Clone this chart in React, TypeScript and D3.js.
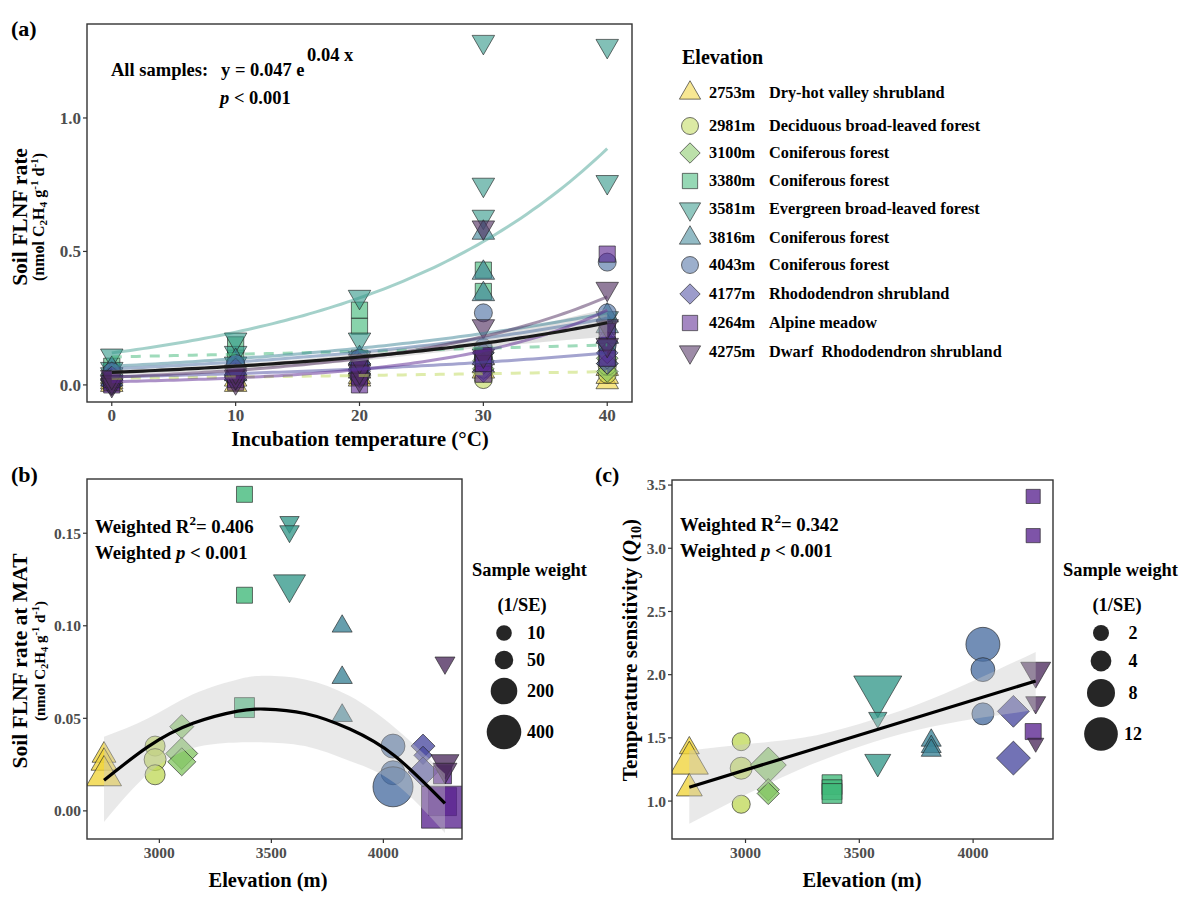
import React from 'react';
import * as d3 from 'd3';

const FONT = '"Liberation Serif", "Times New Roman", serif';

// sites
const sites = [2753, 2981, 3100, 3380, 3581, 3816, 4043, 4177, 4264, 4275];
const habitats = [
  'Dry-hot valley shrubland',
  'Deciduous broad-leaved forest',
  'Coniferous forest',
  'Coniferous forest',
  'Evergreen broad-leaved forest',
  'Coniferous forest',
  'Coniferous forest',
  'Rhododendron shrubland',
  'Alpine meadow',
  'Dwarf  Rhododendron shrubland',
];
const shapes = ['tri', 'circ', 'diam', 'sq', 'tridown', 'tri', 'circ', 'diam', 'sq', 'tridown'];
const colors = ['#f0d43a', '#c0d95a', '#85c765', '#3fb878', '#35998a', '#3b8396', '#4a6ea2', '#4a4aa0', '#5a2490', '#4d2b5e'];

// (a) rate by incubation temperature, three replicates per site
const temps = [0, 10, 20, 30, 40];
const rate2753 = [[0.0, 0.01, 0.03], [0.0, 0.02, 0.05], [0.02, 0.03, 0.05], [0.05, 0.07, 0.1], [0.01, 0.03, 0.06]];
const rate2981 = [[0.01, 0.02, 0.03], [0.03, 0.05, 0.08], [0.03, 0.05, 0.07], [0.02, 0.06, 0.1], [0.04, 0.07, 0.09]];
const rate3100 = [[0.01, 0.02, 0.04], [0.02, 0.04, 0.06], [0.04, 0.06, 0.08], [0.06, 0.09, 0.12], [0.05, 0.08, 0.1]];
const rate3380 = [[0.03, 0.05, 0.07], [0.06, 0.1, 0.15], [0.1, 0.22, 0.28], [0.12, 0.35, 0.43], [0.1, 0.15, 0.22]];
const rate3581 = [[0.04, 0.06, 0.11], [0.08, 0.12, 0.17], [0.1, 0.17, 0.33], [0.63, 0.75, 1.285], [0.25, 0.76, 1.27]];
const rate3816 = [[0.02, 0.04, 0.06], [0.04, 0.06, 0.09], [0.06, 0.08, 0.1], [0.34, 0.42, 0.57], [0.18, 0.22, 0.26]];
const rate4043 = [[0.01, 0.03, 0.05], [0.03, 0.05, 0.08], [0.05, 0.07, 0.1], [0.1, 0.14, 0.27], [0.15, 0.27, 0.46]];
const rate4177 = [[0.0, 0.02, 0.03], [0.02, 0.04, 0.06], [0.03, 0.05, 0.08], [0.05, 0.08, 0.12], [0.08, 0.12, 0.16]];
const rate4264 = [[0.0, 0.01, 0.02], [0.01, 0.02, 0.04], [0.0, 0.03, 0.06], [0.04, 0.08, 0.11], [0.1, 0.2, 0.49]];
const rate4275 = [[0.0, 0.01, 0.03], [0.01, 0.03, 0.05], [0.02, 0.05, 0.09], [0.11, 0.22, 0.59], [0.15, 0.22, 0.36]];
const rateBySite = [rate2753, rate2981, rate3100, rate3380, rate3581, rate3816, rate4043, rate4177, rate4264, rate4275];

// (a) per-site exponential fits: value at 0 and at 40 °C (null = no line)
const fitStart = [null, 0.025, null, 0.105, 0.12, 0.07, 0.06, 0.03, 0.012, 0.03];
const fitEnd = [null, 0.05, null, 0.15, 0.885, 0.27, 0.25, 0.12, 0.28, 0.33];
const fitDashed = [false, true, false, true, false, false, false, false, false, false];
const allA = 0.047;
const allB = 0.04;
const allLo = [0.038, 0.058, 0.09, 0.14, 0.18];
const allHi = [0.056, 0.078, 0.118, 0.185, 0.285];

// (b) rate at MAT
const bElev = [2753, 2753, 2753, 2981, 2981, 2981, 3100, 3100, 3100, 3380, 3380, 3380, 3581, 3581, 3581, 3816, 3816, 3816, 4043, 4043, 4043, 4177, 4177, 4177, 4264, 4264, 4264, 4275, 4275, 4275];
const bRate = [0.03, 0.026, 0.019, 0.035, 0.0277, 0.0195, 0.0455, 0.031, 0.0265, 0.171, 0.1165, 0.0558, 0.156, 0.151, 0.1225, 0.0997, 0.072, 0.0515, 0.035, 0.0206, 0.013, 0.035, 0.03, 0.021, 0.0195, 0.005, 0.002, 0.08, 0.026, 0.022];
const bWeight = [60, 87, 230, 74, 108, 74, 74, 200, 134, 39, 39, 111, 8, 10, 180, 15, 18, 20, 146, 146, 565, 74, 5, 165, 74, 306, 800, 15, 115, 60];
const bFitElev = [2753, 2950, 3150, 3350, 3470, 3650, 3850, 4050, 4275];
const bFitVal = [0.0165, 0.0347, 0.0473, 0.0539, 0.055, 0.0526, 0.0442, 0.0298, 0.004];
const bFitLo = [-0.006, 0.02, 0.034, 0.037, 0.037, 0.035, 0.027, 0.015, -0.012];
const bFitHi = [0.04, 0.05, 0.063, 0.071, 0.073, 0.071, 0.062, 0.045, 0.02];
const bLegendW = [10, 50, 200, 400];

// (c) Q10
const cElev = [2753, 2753, 2753, 2981, 2981, 2981, 3100, 3100, 3100, 3380, 3380, 3380, 3581, 3581, 3581, 3816, 3816, 3816, 4043, 4043, 4043, 4177, 4177, 4264, 4264, 4264, 4275, 4275, 4275];
const cQ10 = [1.42, 1.3, 1.1, 1.47, 1.26, 0.975, 1.285, 1.09, 1.06, 1.13, 1.09, 1.06, 1.88, 1.66, 1.31, 1.48, 1.43, 1.4, 2.24, 2.04, 1.69, 1.71, 1.34, 3.41, 3.1, 1.55, 2.03, 1.78, 1.46];
const cWeight = [2.0, 9.6, 4.0, 2.8, 4.6, 2.8, 9.3, 3.0, 3.0, 4.6, 4.6, 4.6, 15.9, 1.5, 4.0, 2.0, 2.0, 2.0, 12.2, 5.6, 4.6, 7.1, 8.2, 1.9, 1.9, 2.7, 5.6, 2.0, 1.0];
const cFitElev = [2753, 4275];
const cFitVal = [1.11, 1.95];
const cRibElev = [2753, 3000, 3250, 3500, 3750, 4000, 4275];
const cRibLo = [0.82, 1.05, 1.26, 1.43, 1.56, 1.65, 1.72];
const cRibHi = [1.4, 1.45, 1.5, 1.61, 1.76, 1.95, 2.18];
const cLegendW = [2, 4, 8, 12];

function shapePath(shape: string, r: number): string {
  if (shape === 'circ') {
    return `M${-r},0a${r},${r} 0 1,0 ${2 * r},0a${r},${r} 0 1,0 ${-2 * r},0Z`;
  }
  if (shape === 'sq') {
    const h = r * 0.9;
    return `M${-h},${-h}H${h}V${h}H${-h}Z`;
  }
  if (shape === 'diam') {
    const h = r * 1.2;
    return `M0,${-h}L${h},0L0,${h}L${-h},0Z`;
  }
  const w = r * 1.25;
  const ht = w * 1.732;
  if (shape === 'tri') return `M0,${(-2 * ht) / 3}L${w},${ht / 3}L${-w},${ht / 3}Z`;
  return `M0,${(2 * ht) / 3}L${w},${-ht / 3}L${-w},${-ht / 3}Z`;
}

const siteIndex = (e: number) => sites.indexOf(e);

interface FrameProps {
  x: d3.ScaleLinear<number, number>;
  y: d3.ScaleLinear<number, number>;
  xTicks: number[];
  yTicks: number[];
  yFmt: (v: number) => string;
  fontSize: number;
}

const Frame: React.FC<FrameProps> = ({ x, y, xTicks, yTicks, yFmt, fontSize }) => {
  const [x0, x1] = x.range();
  const [y0, y1] = y.range();
  return (
    <g>
      <rect x={x0} y={y1} width={x1 - x0} height={y0 - y1} fill="none" stroke="#333" strokeWidth={1.4} />
      {xTicks.map((t) => (
        <g key={'x' + t}>
          <line x1={x(t)} x2={x(t)} y1={y0} y2={y0 + 4} stroke="#333" strokeWidth={1.2} />
          <text x={x(t)} y={y0 + 19} textAnchor="middle" fontSize={fontSize} fontWeight="bold" fill="#4d4d4d">{t}</text>
        </g>
      ))}
      {yTicks.map((t) => (
        <g key={'y' + t}>
          <line x1={x0 - 4} x2={x0} y1={y(t)} y2={y(t)} stroke="#333" strokeWidth={1.2} />
          <text x={x0 - 6} y={y(t) + fontSize * 0.35} textAnchor="end" fontSize={fontSize} fontWeight="bold" fill="#4d4d4d">{yFmt(t)}</text>
        </g>
      ))}
    </g>
  );
};

const Mark: React.FC<{ shape: string; r: number; cx: number; cy: number; color: string; op?: number }> = ({ shape, r, cx, cy, color, op = 0.65 }) => (
  <path
    d={shapePath(shape, r)}
    transform={`translate(${cx},${cy})`}
    fill={color}
    fillOpacity={op}
    stroke="#222"
    strokeOpacity={0.7}
    strokeWidth={0.9}
  />
);

const Unit: React.FC<{ size: number }> = ({ size }) => (
  <>
    (nmol C<tspan fontSize={size * 0.7} dy={3}>2</tspan>
    <tspan dy={-3}>H</tspan>
    <tspan fontSize={size * 0.7} dy={3}>4</tspan>
    <tspan dy={-3}> g</tspan>
    <tspan fontSize={size * 0.7} dy={-6}>-1</tspan>
    <tspan dy={6}> d</tspan>
    <tspan fontSize={size * 0.7} dy={-6}>-1</tspan>
    <tspan dy={6}>)</tspan>
  </>
);

export default function App() {
  // ---------- panel a ----------
  const xA = d3.scaleLinear().domain([-2, 42]).range([87, 632]);
  const yA = d3.scaleLinear().domain([-0.064, 1.352]).range([402, 24]);
  const fine = d3.range(0, 40.01, 0.5);
  const lineA = d3.line<[number, number]>().x((d) => xA(d[0])).y((d) => yA(d[1]));
  const ribA = d3
    .area<number>()
    .x((_, i) => xA(temps[i]))
    .y0((_, i) => yA(allLo[i]))
    .y1((_, i) => yA(allHi[i]))
    .curve(d3.curveMonotoneX);

  // ---------- panel b ----------
  const xB = d3.scaleLinear().domain([2677, 4351]).range([87, 462]);
  const yB = d3.scaleLinear().domain([-0.0152, 0.1793]).range([839, 479]);
  const sizeB = d3.scaleLinear().domain([0, 450]).range([55, 330]);
  const rB = (w: number) => Math.sqrt(Math.max(sizeB(w), 20));
  const ribB = d3
    .area<number>()
    .x((d) => xB(d))
    .y0((_, i) => yB(bFitLo[i]))
    .y1((_, i) => yB(bFitHi[i]))
    .curve(d3.curveNatural);
  const fitB = d3
    .line<number>()
    .x((d) => xB(d))
    .y((_, i) => yB(bFitVal[i]))
    .curve(d3.curveNatural);

  // ---------- panel c ----------
  const xC = d3.scaleLinear().domain([2677, 4351]).range([672, 1053]);
  const yC = d3.scaleLinear().domain([0.7, 3.54]).range([839, 480]);
  const sizeC = d3.scaleLinear().domain([0, 14]).range([20, 328]);
  const rC = (w: number) => Math.sqrt(sizeC(w));
  const ribC = d3
    .area<number>()
    .x((d) => xC(d))
    .y0((_, i) => yC(cRibLo[i]))
    .y1((_, i) => yC(cRibHi[i]))
    .curve(d3.curveNatural);
  const fitC = d3
    .line<number>()
    .x((d) => xC(d))
    .y((_, i) => yC(cFitVal[i]));

  const legendRows = [93, 126, 153, 181, 209, 238, 265, 294, 323, 352];

  return (
    <svg width={1200} height={900} style={{ position: 'absolute', left: 0, top: 0, background: '#fff' }} fontFamily={FONT}>
      <defs>
        <clipPath id="clipA"><rect x={87} y={24} width={545} height={378} /></clipPath>
        <clipPath id="clipB"><rect x={87} y={479} width={375} height={360} /></clipPath>
        <clipPath id="clipC"><rect x={672} y={480} width={381} height={359} /></clipPath>
      </defs>

      {/* ================= (a) ================= */}
      <text x={11} y={36} fontSize={22} fontWeight="bold">(a)</text>
      <g clipPath="url(#clipA)">
        {rateBySite.map((rows, s) =>
          rows.map((reps, ti) =>
            reps.map((v, k) => (
              <Mark key={`a${s}-${ti}-${k}`} shape={shapes[s]} r={9} cx={xA(temps[ti])} cy={yA(v)} color={colors[s]} op={0.62} />
            ))
          )
        )}
        <path d={ribA(temps) || ''} fill="#bdbdbd" fillOpacity={0.45} />
        {sites.map((_, s) => {
          const a = fitStart[s];
          const b = fitEnd[s];
          if (a === null || b === null) return null;
          const pts = fine.map((t) => [t, a * Math.pow(b / a, t / 40)] as [number, number]);
          return (
            <path
              key={'fit' + s}
              d={lineA(pts) || ''}
              fill="none"
              stroke={colors[s]}
              strokeOpacity={s === 4 ? 0.45 : 0.5}
              strokeWidth={3}
              strokeDasharray={fitDashed[s] ? '10 9' : undefined}
            />
          );
        })}
        <path
          d={lineA(fine.map((t) => [t, allA * Math.exp(allB * t)] as [number, number])) || ''}
          fill="none"
          stroke="#1a1a1a"
          strokeWidth={3.2}
        />
      </g>
      <Frame x={xA} y={yA} xTicks={temps} yTicks={[0, 0.5, 1]} yFmt={(v) => v.toFixed(1)} fontSize={17} />
      <text x={111} y={76} fontSize={18.5} fontWeight="bold">All samples:</text>
      <text x={221} y={76} fontSize={18.5} fontWeight="bold">y = 0.047 e</text>
      <text x={307} y={61} fontSize={18.5} fontWeight="bold">0.04 x</text>
      <text x={220} y={104} fontSize={18.5} fontWeight="bold">
        <tspan fontStyle="italic">p</tspan> {'< 0.001'}
      </text>
      <text x={360} y={446} textAnchor="middle" fontSize={21} fontWeight="bold">Incubation temperature (°C)</text>
      <text transform="translate(27,217) rotate(-90)" textAnchor="middle" fontSize={21.5} fontWeight="bold">Soil FLNF rate</text>
      <text transform="translate(44,217) rotate(-90)" textAnchor="middle" fontSize={16} fontWeight="bold">
        <Unit size={16} />
      </text>

      {/* legend a */}
      <text x={682} y={64} fontSize={20} fontWeight="bold">Elevation</text>
      {sites.map((e, s) => (
        <g key={'leg' + e}>
          <Mark shape={shapes[s]} r={8.5} cx={690} cy={legendRows[s]} color={colors[s]} op={0.55} />
          <text x={709} y={legendRows[s] + 5} fontSize={16.3} fontWeight="bold">{e}m</text>
          <text x={769} y={legendRows[s] + 5} fontSize={16.3} fontWeight="bold" style={{ whiteSpace: 'pre' }}>{habitats[s]}</text>
        </g>
      ))}

      {/* ================= (b) ================= */}
      <text x={11} y={482} fontSize={22} fontWeight="bold">(b)</text>
      <g clipPath="url(#clipB)">
        {bElev.map((e, i) => {
          const s = siteIndex(e);
          return <Mark key={'b' + i} shape={shapes[s]} r={rB(bWeight[i])} cx={xB(e)} cy={yB(bRate[i])} color={colors[s]} op={0.78} />;
        })}
        <path d={ribB(bFitElev) || ''} fill="#c8c8c8" fillOpacity={0.4} />
        <path d={fitB(bFitElev) || ''} fill="none" stroke="#000" strokeWidth={3.2} />
      </g>
      <Frame x={xB} y={yB} xTicks={[3000, 3500, 4000]} yTicks={[0, 0.05, 0.1, 0.15]} yFmt={(v) => v.toFixed(2)} fontSize={15.5} />
      <text x={95} y={533} fontSize={18.8} fontWeight="bold">
        Weighted R<tspan fontSize={13} dy={-8}>2</tspan><tspan dy={8}>= 0.406</tspan>
      </text>
      <text x={95} y={559} fontSize={18.8} fontWeight="bold">
        Weighted <tspan fontStyle="italic">p</tspan> {' < 0.001'}
      </text>
      <text x={268} y={887} textAnchor="middle" fontSize={20.5} fontWeight="bold">Elevation (m)</text>
      <text transform="translate(27,661) rotate(-90)" textAnchor="middle" fontSize={21.5} fontWeight="bold">Soil FLNF rate at MAT</text>
      <text transform="translate(45,661) rotate(-90)" textAnchor="middle" fontSize={15} fontWeight="bold">
        <Unit size={15} />
      </text>

      {/* legend b */}
      <text x={472} y={576} fontSize={18.4} fontWeight="bold">Sample weight</text>
      <text x={522} y={611} textAnchor="middle" fontSize={18.4} fontWeight="bold">(1/SE)</text>
      {bLegendW.map((w, i) => {
        const cy = [633, 660, 691, 732][i];
        return (
          <g key={'bl' + w}>
            <circle cx={504} cy={cy} r={rB(w)} fill="#262626" />
            <text x={527} y={cy + 6} fontSize={18} fontWeight="bold">{w}</text>
          </g>
        );
      })}

      {/* ================= (c) ================= */}
      <text x={595} y={482} fontSize={22} fontWeight="bold">(c)</text>
      <g clipPath="url(#clipC)">
        {cElev.map((e, i) => {
          const s = siteIndex(e);
          return <Mark key={'c' + i} shape={shapes[s]} r={rC(cWeight[i])} cx={xC(e)} cy={yC(cQ10[i])} color={colors[s]} op={0.78} />;
        })}
        <path d={ribC(cRibElev) || ''} fill="#c8c8c8" fillOpacity={0.4} />
        <path d={fitC(cFitElev) || ''} fill="none" stroke="#000" strokeWidth={3.2} />
      </g>
      <Frame x={xC} y={yC} xTicks={[3000, 3500, 4000]} yTicks={[1, 1.5, 2, 2.5, 3, 3.5]} yFmt={(v) => v.toFixed(1)} fontSize={15.5} />
      <text x={680} y={531} fontSize={18.8} fontWeight="bold">
        Weighted R<tspan fontSize={13} dy={-8}>2</tspan><tspan dy={8}>= 0.342</tspan>
      </text>
      <text x={680} y={557} fontSize={18.8} fontWeight="bold">
        Weighted <tspan fontStyle="italic">p</tspan> {' < 0.001'}
      </text>
      <text x={862} y={887} textAnchor="middle" fontSize={20.5} fontWeight="bold">Elevation (m)</text>
      <text transform="translate(637,650) rotate(-90)" textAnchor="middle" fontSize={21.2} fontWeight="bold">
        Temperature sensitivity (<tspan fontStyle="italic">Q</tspan><tspan fontSize={14} dy={4}>10</tspan><tspan dy={-4}>)</tspan>
      </text>

      {/* legend c */}
      <text x={1063} y={576} fontSize={18.4} fontWeight="bold">Sample weight</text>
      <text x={1117} y={611} textAnchor="middle" fontSize={18.4} fontWeight="bold">(1/SE)</text>
      {cLegendW.map((w, i) => {
        const cy = [633, 661, 693, 734][i];
        return (
          <g key={'cl' + w}>
            <circle cx={1101} cy={cy} r={rC(w)} fill="#262626" />
            <text x={1133} y={cy + 6} fontSize={18} fontWeight="bold" textAnchor="middle">{w}</text>
          </g>
        );
      })}
    </svg>
  );
}
